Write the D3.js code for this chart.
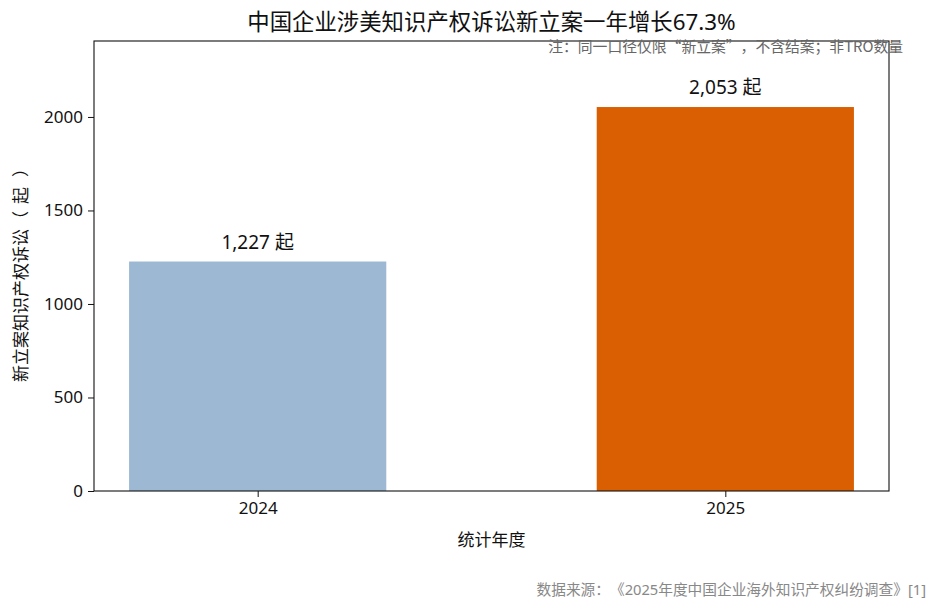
<!DOCTYPE html>
<html>
<head>
<meta charset="utf-8">
<script src="https://cdn.jsdelivr.net/npm/d3@7"></script>
<style>
  html, body { margin: 0; padding: 0; background: #fff; }
  text { font-family: "Noto Sans", "Noto Sans CJK SC", sans-serif; text-spacing-trim: space-all; }
  text.cjk { font-family: "Noto Sans CJK SC", "Noto Sans", sans-serif; }
</style>
</head>
<body>
<div id="grafica"></div>
<script>
// ==============================
// DATOS
// ==============================
const anios = ["2024", "2025"];
const casos = [1227, 2053];
const colores = ["#9db8d2", "#d95f02"];
const ticksY = [0, 500, 1000, 1500, 2000];

const titulo = "中国企业涉美知识产权诉讼新立案一年增长67.3%";
const nota = "注：同一口径仅限“新立案”，不含结案；非TRO数量";
const fuente = "数据来源：《2025年度中国企业海外知识产权纠纷调查》[1]";
const etiquetaY = ["新立案知识产权诉讼", "（", "起", "）"];
const posEtiquetaY = [0, 154, 178, 205];   // avance a lo largo del texto girado

// ==============================
// SVG Y ESCALAS
// ==============================
const W = 942, H = 611;
const margen = { left: 94, right: 53, top: 41, bottom: 120 };
const ancho = W - margen.left - margen.right;
const alto = H - margen.top - margen.bottom;

const svg = d3.select("#grafica").append("svg")
  .attr("width", W).attr("height", H);

const g = svg.append("g")
  .attr("transform", `translate(${margen.left},${margen.top})`);

// posiciones continuas: xlim [-0.35, 1.35], ancho de barra 0.55
const x = d3.scaleLinear().domain([-0.35, 1.35]).range([0, ancho]);
const y = d3.scaleLinear().domain([0, d3.max(casos) * 1.172]).range([alto, 0]);
const anchoBarra = 0.55;

// barras
g.selectAll("rect.barra")
  .data(casos)
  .join("rect")
  .attr("class", "barra")
  .attr("x", (d, i) => x(i - anchoBarra / 2))
  .attr("width", x(anchoBarra) - x(0))
  .attr("y", d => y(d))
  .attr("height", d => y(0) - y(d))
  .attr("fill", (d, i) => colores[i]);

// etiquetas de valor
g.selectAll("text.valor")
  .data(casos)
  .join("text")
  .attr("class", "valor")
  .attr("x", (d, i) => x(i))
  .attr("y", d => y(d) - 13)
  .attr("text-anchor", "middle")
  .attr("font-size", 19)
  .attr("fill", "#111")
  .text(d => `${d3.format(",")(d)} 起`);

// ejes
const ejeY = g.append("g")
  .call(d3.axisLeft(y).tickValues(ticksY).tickFormat(d3.format("d")).tickSize(6).tickPadding(5).tickSizeOuter(0));
const ejeX = g.append("g")
  .attr("transform", `translate(0,${alto})`)
  .call(d3.axisBottom(x).tickValues([0, 1]).tickFormat(i => anios[i]).tickSize(6).tickPadding(5).tickSizeOuter(0));

[ejeY, ejeX].forEach(e => {
  e.select(".domain").remove();
  e.selectAll("line").attr("stroke", "#111");
  e.selectAll("text").attr("font-size", 17).attr("fill", "#111");
});

// marco
g.append("rect")
  .attr("width", ancho).attr("height", alto)
  .attr("fill", "none").attr("stroke", "#111").attr("stroke-width", 1.1);

// ==============================
// TEXTOS
// ==============================
svg.append("text")
  .attr("x", margen.left + ancho / 2).attr("y", 30)
  .attr("text-anchor", "middle").attr("font-size", 22.4).attr("fill", "#111")
  .text(titulo);

svg.append("text")
  .attr("class", "cjk")
  .attr("x", 903).attr("y", 52)
  .attr("text-anchor", "end").attr("font-size", 14.8).attr("fill", "#666")
  .text(nota);

// etiqueta Y con paréntesis espaciados
svg.append("text")
  .attr("class", "cjk")
  .attr("transform", "translate(27,382) rotate(-90)")
  .attr("font-size", 17).attr("fill", "#111")
  .selectAll("tspan")
  .data(etiquetaY)
  .join("tspan")
  .attr("x", (d, i) => posEtiquetaY[i])
  .text(d => d);

svg.append("text")
  .attr("x", margen.left + ancho / 2).attr("y", 546)
  .attr("text-anchor", "middle").attr("font-size", 17).attr("fill", "#111")
  .text("统计年度");

svg.append("text")
  .attr("x", 926).attr("y", 595)
  .attr("text-anchor", "end").attr("font-size", 14.7).attr("fill", "#888")
  .text(fuente);
</script>
</body>
</html>
